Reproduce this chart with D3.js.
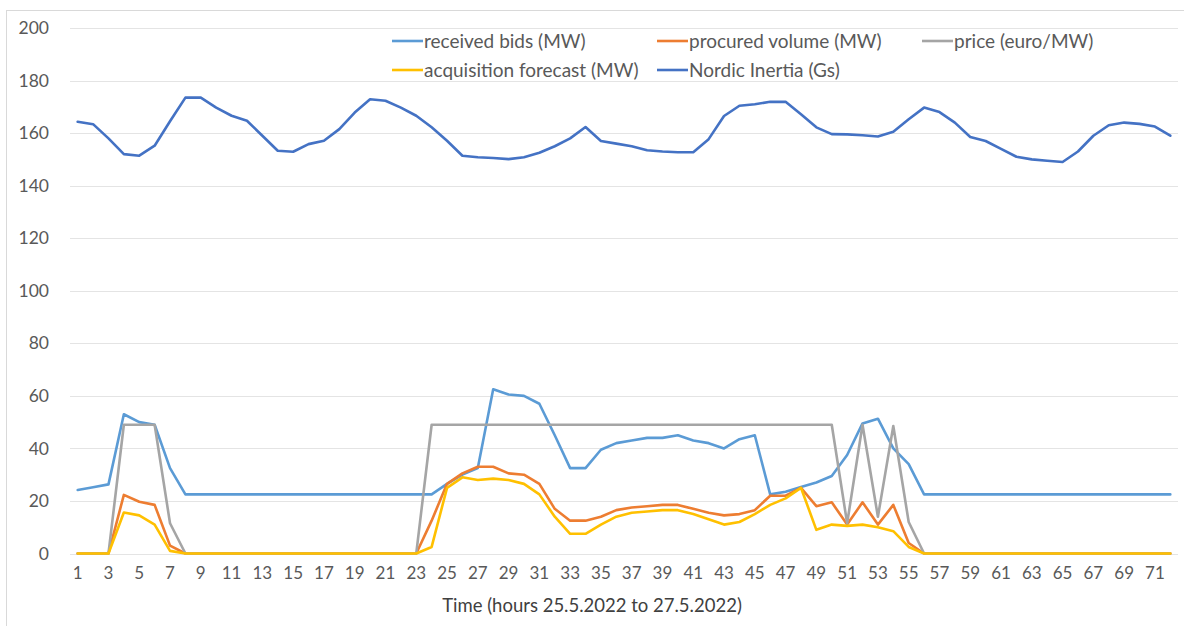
<!DOCTYPE html>
<html>
<head>
<meta charset="utf-8">
<script src="https://cdn.jsdelivr.net/npm/d3@7/dist/d3.min.js"></script>
<style>
  html, body { margin: 0; padding: 0; background: #ffffff; }
  svg { display: block; font-family: Lato, "Open Sans", sans-serif; }
</style>
</head>
<body>
<svg id="chart" width="1184" height="626"></svg>
<script>
// Hours 1..72 (25.5.2022 to 27.5.2022)
const hours = d3.range(1, 73);

const receivedBids = [
  24.2, 25.2, 26.3, 53, 50, 49, 32.5, 22.5, 22.5, 22.5, 22.5, 22.5,
  22.5, 22.5, 22.5, 22.5, 22.5, 22.5, 22.5, 22.5, 22.5, 22.5, 22.5, 22.5,
  26.5, 30, 32.5, 62.5, 60.5, 60, 57, 45, 32.5, 32.5, 39.5, 42,
  43, 44, 44, 45, 43, 42, 40, 43.5, 45, 22.5, 23.5, 25.3,
  27, 29.5, 37.5, 49.5, 51.3, 40, 34, 22.5, 22.5, 22.5, 22.5, 22.5,
  22.5, 22.5, 22.5, 22.5, 22.5, 22.5, 22.5, 22.5, 22.5, 22.5, 22.5, 22.5
];

const procuredVolume = [
  0, 0, 0, 22.3, 19.7, 18.5, 3, 0, 0, 0, 0, 0,
  0, 0, 0, 0, 0, 0, 0, 0, 0, 0, 0, 12.5,
  26.5, 30.5, 33, 33, 30.5, 30, 26.5, 17, 12.5, 12.5, 14, 16.5,
  17.5, 18, 18.5, 18.5, 17, 15.5, 14.5, 15, 16.5, 22, 22, 25,
  18, 19.5, 11, 19.5, 11, 18.5, 4, 0, 0, 0, 0, 0,
  0, 0, 0, 0, 0, 0, 0, 0, 0, 0, 0, 0
];

const price = [
  0, 0, 0, 49, 49, 49, 11.5, 0, 0, 0, 0, 0,
  0, 0, 0, 0, 0, 0, 0, 0, 0, 0, 0, 49,
  49, 49, 49, 49, 49, 49, 49, 49, 49, 49, 49, 49,
  49, 49, 49, 49, 49, 49, 49, 49, 49, 49, 49, 49,
  49, 49, 11.5, 49, 14, 48.5, 12, 0, 0, 0, 0, 0,
  0, 0, 0, 0, 0, 0, 0, 0, 0, 0, 0, 0
];

const acquisitionForecast = [
  0, 0, 0, 15.6, 14.5, 11, 1, 0, 0, 0, 0, 0,
  0, 0, 0, 0, 0, 0, 0, 0, 0, 0, 0, 2.5,
  25, 29, 28, 28.5, 28, 26.5, 22.5, 14, 7.5, 7.5, 11, 14,
  15.5, 16, 16.5, 16.5, 15, 13, 11, 12, 15, 18.5, 21, 25,
  9, 11, 10.5, 11, 10, 8.5, 2.5, 0, 0, 0, 0, 0,
  0, 0, 0, 0, 0, 0, 0, 0, 0, 0, 0, 0
];

const nordicInertia = [
  164.3, 163.4, 158, 152, 151.4, 155.2, 164.5, 173.5, 173.5, 169.7, 166.6, 164.7,
  159, 153.3, 152.9, 155.8, 157.1, 161.5, 167.8, 172.9, 172.3, 169.7, 166.6, 162.2,
  157.1, 151.4, 150.8, 150.5, 150.1, 150.8, 152.5, 155, 158, 162.3, 157, 156,
  155, 153.5, 153, 152.7, 152.7, 157.7, 166.5, 170.4, 171, 171.9, 171.9, 167.2,
  162.2, 159.6, 159.5, 159.2, 158.7, 160.5, 165.3, 169.7, 168, 164, 158.5, 157,
  154, 151, 150, 149.5, 149, 153, 159, 163, 164, 163.5, 162.5, 159
];

const yTicks = [0, 20, 40, 60, 80, 100, 120, 140, 160, 180, 200];
const xTickLabels = hours.filter(h => h % 2 === 1);

// Series in drawing order (later ones on top)
const series = [
  { name: "received bids (MW)",         values: receivedBids,        color: "#5B9BD5" },
  { name: "procured volume (MW)",       values: procuredVolume,      color: "#ED7D31" },
  { name: "price (euro/MW)",            values: price,               color: "#A5A5A5" },
  { name: "acquisition forecast (MW)",  values: acquisitionForecast, color: "#FFC000" },
  { name: "Nordic Inertia (Gs)",        values: nordicInertia,       color: "#4472C4" }
];

const svg = d3.select("#chart");

// chart area outline
svg.append("rect")
  .attr("x", 6.5).attr("y", 10.5)
  .attr("width", 1200).attr("height", 640)
  .attr("fill", "none").attr("stroke", "#d9d9d9").attr("stroke-width", 1);

const plot = { left: 70, right: 1178, top: 28, bottom: 553.5 };

const x = d3.scaleBand().domain(hours).range([plot.left, plot.right]);
const xc = h => x(h) + x.bandwidth() / 2;
const y = d3.scaleLinear().domain([0, 200]).range([plot.bottom, plot.top]);

// horizontal gridlines
svg.append("g")
  .selectAll("line")
  .data(yTicks)
  .join("line")
  .attr("x1", plot.left).attr("x2", plot.right)
  .attr("y1", d => Math.round(y(d)) + 0.5).attr("y2", d => Math.round(y(d)) + 0.5)
  .attr("stroke", "#e4e4e4").attr("stroke-width", 1);

// y axis labels
const yAxis = d3.axisLeft(y).tickValues(yTicks).tickSize(0).tickPadding(0);
const gy = svg.append("g").attr("transform", "translate(49,0)").call(yAxis);
gy.select(".domain").remove();
gy.selectAll("text")
  .attr("fill", "#595959")
  .style("font-size", "17.5px")
  .style("font-family", "Lato, sans-serif");

// x axis labels
const xAxis = d3.axisBottom(x).tickValues(xTickLabels).tickSize(0).tickPadding(0);
const gx = svg.append("g").attr("transform", `translate(0,${plot.bottom + 13})`).call(xAxis);
gx.select(".domain").remove();
gx.selectAll("text")
  .attr("fill", "#595959")
  .style("font-size", "17px")
  .style("font-family", "Lato, sans-serif");

// x axis title, centred on the chart area
svg.append("text")
  .attr("x", 592)
  .attr("y", 612)
  .attr("text-anchor", "middle")
  .attr("fill", "#404040")
  .style("font-size", "18.5px")
  .text("Time (hours 25.5.2022 to 27.5.2022)");

// series lines
const line = d3.line()
  .x((d, i) => xc(hours[i]))
  .y(d => y(d));

svg.append("g")
  .selectAll("path")
  .data(series)
  .join("path")
  .attr("d", s => line(s.values))
  .attr("fill", "none")
  .attr("stroke", s => s.color)
  .attr("stroke-width", 2.6)
  .attr("stroke-linejoin", "round")
  .attr("stroke-linecap", "round");

// legend (two rows, three columns)
const legendCols = [392, 657, 922];
const legendRows = [41, 70];
const legend = svg.append("g")
  .selectAll("g")
  .data(series)
  .join("g")
  .attr("transform", (s, i) => `translate(${legendCols[i % 3]},${legendRows[Math.floor(i / 3)]})`);

legend.append("line")
  .attr("x1", 0).attr("x2", 31)
  .attr("y1", 0).attr("y2", 0)
  .attr("stroke", s => s.color)
  .attr("stroke-width", 2.6);

legend.append("text")
  .attr("x", 32)
  .attr("y", 0)
  .attr("dy", "0.35em")
  .attr("fill", "#595959")
  .style("font-size", "19px")
  .text(s => s.name);
</script>
</body>
</html>
